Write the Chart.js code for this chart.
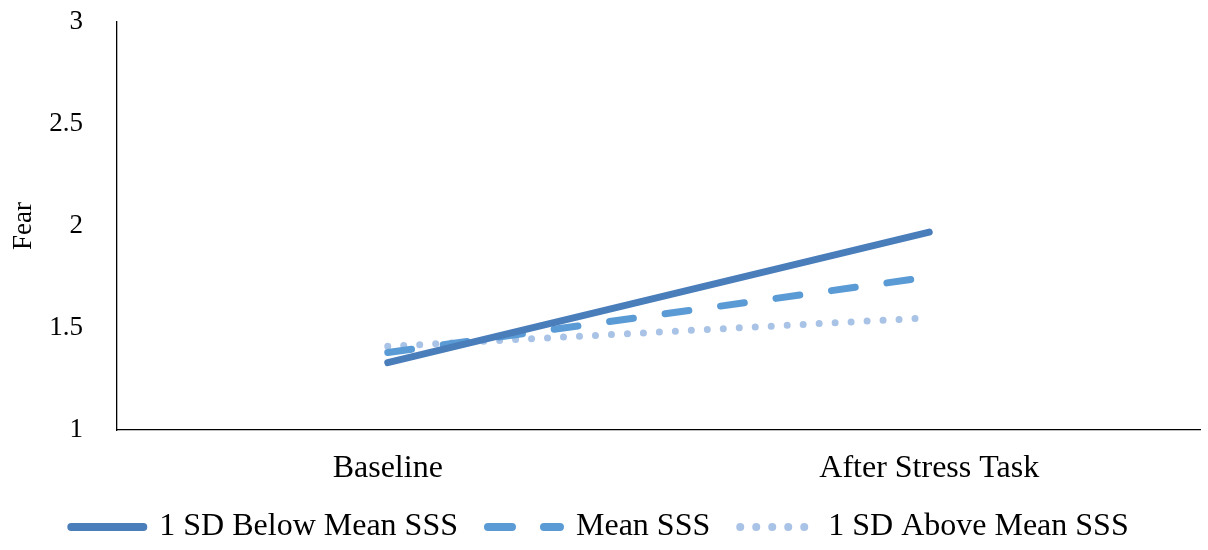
<!DOCTYPE html>
<html>
<head>
<meta charset="utf-8">
<script src="https://cdn.jsdelivr.net/npm/chart.js@4/dist/chart.umd.min.js"></script>
<style>
  html, body { margin: 0; padding: 0; background: #fff; }
  #wrap { width: 1208px; height: 550px; }
</style>
</head>
<body>
<div id="wrap"><canvas id="myChart" width="1208" height="550"></canvas></div>
<script>
// data
const categories = ['Baseline', 'After Stress Task'];
const belowMean = [1.33, 1.97];
const meanSSS = [1.38, 1.75];
const aboveMean = [1.41, 1.55];
const seriesNames = ['1 SD Below Mean SSS', 'Mean SSS', '1 SD Above Mean SSS'];
const yTicks = [1, 1.5, 2, 2.5, 3];

const serif = '"Liberation Serif", "Times New Roman", serif';

const ctx = document.getElementById('myChart').getContext('2d');

// legend: keep its box short so the x labels are not clipped, then pull it up
const legendPlace = {
    id: 'legendPlace',
    beforeLayout(chart) {
        const lg = chart.legend;
        if (lg && !lg._patched) {
            const fit = lg.fit;
            lg.fit = function () { fit.call(this); this.height = 60; };
            lg._patched = true;
        }
    },
    afterLayout(chart) {
        const lg = chart.legend;
        const shift = lg.top - 481;
        lg.top -= shift;
        lg.bottom -= shift;
    }
};

const data = {
    labels: categories,
    datasets: [{
        label: seriesNames[0],
        data: belowMean,
        borderColor: '#4a7ebb',
        borderWidth: 7,
        borderCapStyle: 'round',
        pointRadius: 0
    }, {
        label: seriesNames[1],
        data: meanSSS,
        borderColor: '#5b9bd5',
        borderWidth: 7,
        borderDash: [24, 32],
        borderCapStyle: 'round',
        pointRadius: 0
    }, {
        label: seriesNames[2],
        data: aboveMean,
        borderColor: '#a9c3e6',
        borderWidth: 7,
        borderDash: [0, 16],
        borderCapStyle: 'round',
        pointRadius: 0
    }]
};

const options = {
    responsive: false,
    animation: false,
    maintainAspectRatio: false,
    layout: {
        padding: { top: 22, right: 8, left: 0, bottom: 0 }
    },
    plugins: {
        tooltip: { enabled: false },
        legend: {
            position: 'bottom',
            labels: {
                usePointStyle: true,
                pointStyle: 'line',
                pointStyleWidth: 72,
                padding: 30,
                color: '#000',
                font: { family: serif, size: 32 },
                generateLabels: (chart) => {
                    const items = Chart.defaults.plugins.legend.labels.generateLabels(chart);
                    items.forEach((it, i) => {
                        it.lineDash = chart.data.datasets[i].borderDash || [];
                        it.lineCap = 'round';
                        it.lineWidth = 8;
                    });
                    return items;
                }
            }
        }
    },
    scales: {
        x: {
            offset: true,
            grid: { display: false, drawTicks: false },
            border: { display: true, color: '#000', width: 1.3 },
            ticks: { color: '#000', padding: 19, font: { family: serif, size: 32 } },
            afterFit: (scale) => { scale.height = 60; }
        },
        y: {
            min: 1,
            max: 3,
            afterBuildTicks: (scale) => { scale.ticks = yTicks.map(v => ({ value: v })); },
            grid: { display: false, drawTicks: false },
            border: { display: true, color: '#000', width: 1.3 },
            ticks: {
                color: '#000',
                padding: 34,
                font: { family: serif, size: 27 },
                callback: (v) => String(v)
            },
            title: {
                display: true,
                text: 'Fear',
                color: '#000',
                padding: 8,
                font: { family: serif, size: 27 }
            },
            afterFit: (scale) => {
                scale.width = 117;
                scale.paddingTop = 16;
                scale.paddingBottom = 16;
            }
        }
    }
};

const myChart = new Chart(ctx, {
    type: 'line',
    data: data,
    options: options,
    plugins: [legendPlace]
});
</script>
</body>
</html>
